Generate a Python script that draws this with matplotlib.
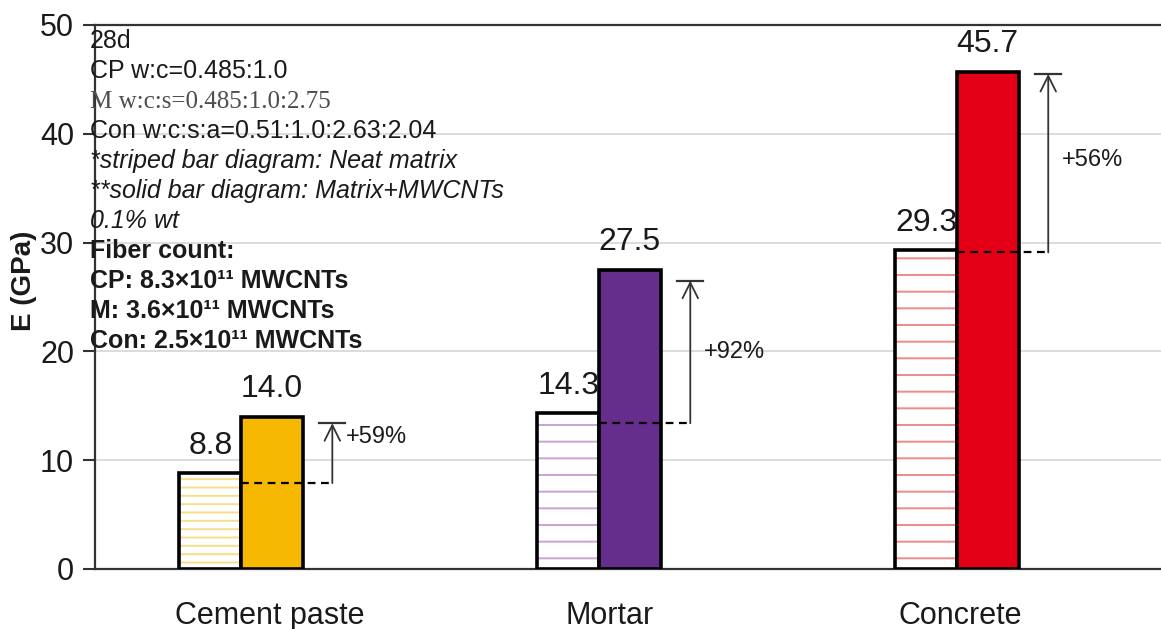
import numpy as np
import matplotlib
matplotlib.use("Agg")
import matplotlib.pyplot as plt

plt.rcParams['font.family'] = ['Liberation Sans', 'DejaVu Sans']
plt.rcParams['hatch.linewidth'] = 1.4

# elastic modulus at 28 days, GPa
categories = ['Cement paste', 'Mortar', 'Concrete']
neat_values = [8.8, 14.3, 29.3]
cnt_values = [14.0, 27.5, 45.7]
gain_labels = ['+59%', '+92%', '+56%']
# levels of the dashed reference line and the arrow tip
ref_levels = [7.9, 13.4, 29.1]
arrow_tops = [13.4, 26.5, 45.5]
gain_text_y = [12.1, 19.9, 37.6]

solid_colors = ['#F6B800', '#652D8C', '#E30016']
stripe_colors = ['#F9DE8A', '#C9A3D3', '#EE8A8A']
hatches = ['--', '-', '-']

W, H = 1161, 629
fig = plt.figure(figsize=(W / 100, H / 100), dpi=100)
ax = fig.add_axes([95 / W, 1 - 569 / H, 1066 / W, 544 / H])

x = np.arange(len(categories))
bw = 0.172

for i in range(len(categories)):
    # striped neat-matrix bar: hatch first, then black outline on top
    ax.bar(x[i] - bw / 2, neat_values[i], bw, color='white',
           edgecolor=stripe_colors[i], hatch=hatches[i], linewidth=0, zorder=2)
    ax.bar(x[i] - bw / 2, neat_values[i], bw, fill=False,
           edgecolor='black', linewidth=2.6, zorder=3)
    ax.bar(x[i] + bw / 2, cnt_values[i], bw, color=solid_colors[i],
           edgecolor='black', linewidth=2.6, zorder=3)

    ax.annotate(f'{neat_values[i]:.1f}', (x[i] - bw / 2, neat_values[i]),
                xytext=(0, 9), textcoords='offset points', ha='center',
                va='bottom', fontsize=23, color='#1a1a1a')
    ax.annotate(f'{cnt_values[i]:.1f}', (x[i] + bw / 2, cnt_values[i]),
                xytext=(0, 9), textcoords='offset points', ha='center',
                va='bottom', fontsize=23, color='#1a1a1a')

    # increase arrow
    xa = x[i] + 0.255
    ax.plot([x[i], xa], [ref_levels[i], ref_levels[i]], color='black',
            lw=1.6, ls=(0, (3.5, 2.5)), zorder=4)
    ax.annotate('', xy=(xa, arrow_tops[i]), xytext=(xa, ref_levels[i]),
                arrowprops=dict(arrowstyle='->', color='#333333', lw=1.3,
                                shrinkA=0, shrinkB=0, mutation_scale=28),
                zorder=4)
    ax.plot([xa - 0.036, xa + 0.036], [arrow_tops[i], arrow_tops[i]],
            color='#333333', lw=1.6, zorder=4)
    ax.annotate(gain_labels[i], (xa, gain_text_y[i]), xytext=(10, 0),
                textcoords='offset points', ha='left', va='center',
                fontsize=17, color='#1a1a1a')

ax.set_xlim(-0.408, 2.57)
ax.set_ylim(0, 50)
ax.set_yticks([0, 10, 20, 30, 40, 50])
ax.tick_params(axis='y', labelsize=22, length=9, width=1.5,
               color='#333333', labelcolor='#1a1a1a', pad=6)
ax.set_xticks(x + np.array([0.08, 0.03, 0.01]))
ax.set_xticklabels(categories, fontsize=22, color='#1a1a1a')
ax.tick_params(axis='x', length=0, pad=23)
ax.yaxis.grid(True, color='#d9d9d9', lw=1.3)
ax.set_axisbelow(True)

for side in ['left', 'bottom', 'top']:
    ax.spines[side].set_color('#333333')
    ax.spines[side].set_linewidth(1.6)
ax.spines['right'].set_visible(False)

ax.set_ylabel('E (GPa)', fontsize=20, fontweight='bold', color='#1a1a1a')
ax.yaxis.set_label_coords(-0.054, 0.53)

# mix proportions and notes
notes = [
    ('28d', {}),
    ('CP w:c=0.485:1.0', {}),
    ('M w:c:s=0.485:1.0:2.75', {'family': 'Liberation Serif', 'color': '#4d4d4d'}),
    ('Con w:c:s:a=0.51:1.0:2.63:2.04', {}),
    ('*striped bar diagram: Neat matrix', {'style': 'italic'}),
    ('**solid bar diagram: Matrix+MWCNTs', {'style': 'italic'}),
    ('0.1% wt', {'style': 'italic'}),
    ('Fiber count:', {'weight': 'bold'}),
    ('CP: 8.3×10¹¹ MWCNTs', {'weight': 'bold'}),
    ('M: 3.6×10¹¹ MWCNTs', {'weight': 'bold'}),
    ('Con: 2.5×10¹¹ MWCNTs', {'weight': 'bold'}),
]
for k, (txt, kw) in enumerate(notes):
    style = dict(fontsize=18, color='#1a1a1a')
    style.update(kw)
    fig.text(90 / W, 1 - (48 + 30 * k) / H, txt, ha='left', va='baseline',
             zorder=5, **style)

fig.savefig('out.png', dpi=100)
